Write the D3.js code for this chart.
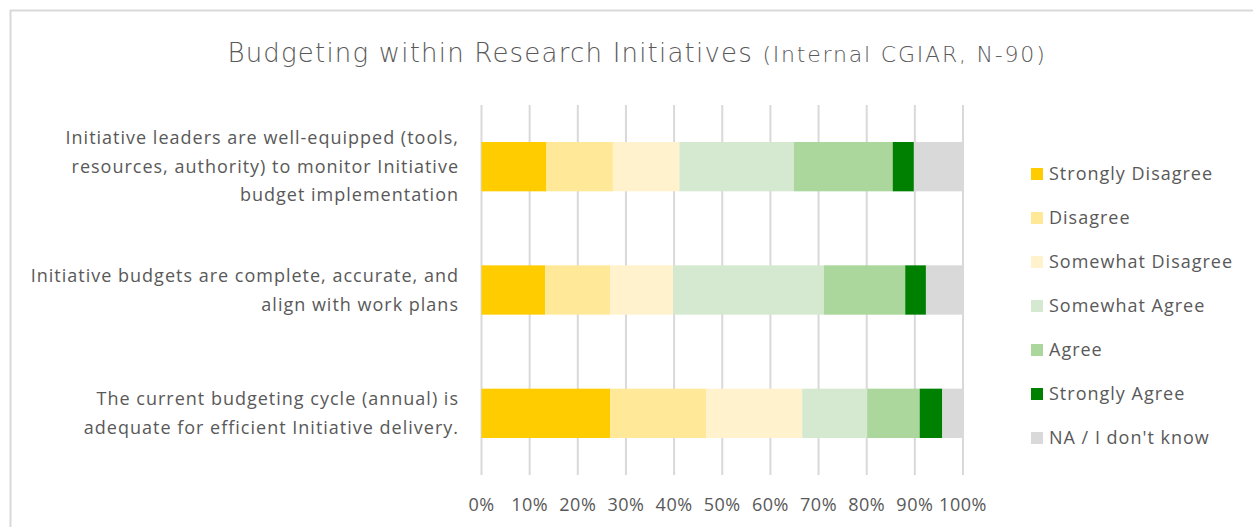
<!DOCTYPE html>
<html>
<head>
<meta charset="utf-8">
<script src="https://cdn.jsdelivr.net/npm/d3@7"></script>
<style>
  body { margin: 0; background: #fff; }
  svg { display: block; font-family: "Open Sans", "Noto Sans", sans-serif; }
</style>
</head>
<body>
<svg id="chart" width="1253" height="527"></svg>
<script>
// survey statements, top to bottom
const questions = [
  ["Initiative leaders are well-equipped (tools,", "resources, authority) to monitor Initiative", "budget implementation"],
  ["Initiative budgets are complete, accurate, and", "align with work plans"],
  ["The current budgeting cycle (annual) is", "adequate for efficient Initiative delivery."]
];
const responses = ["Strongly Disagree", "Disagree", "Somewhat Disagree", "Somewhat Agree", "Agree", "Strongly Agree", "NA / I don't know"];
const colors = ["#FFCC00", "#FFE999", "#FFF2CC", "#D5E8D0", "#ABD79C", "#008000", "#D9D9D9"];
// percent shares per question, in response order
const shares = [
  [13.5, 13.8, 13.8, 23.8, 20.5, 4.4, 10.2],
  [13.2, 13.5, 13.1, 31.3, 16.9, 4.3, 7.7],
  [26.7, 20.0, 19.9, 13.5, 10.9, 4.7, 4.3]
];
const ticks = [0, 10, 20, 30, 40, 50, 60, 70, 80, 90, 100];

const svg = d3.select("#chart");
const textColor = "#595959";

// outer chart frame (extends past the window on right/bottom)
svg.append("rect")
  .attr("x", 10.5).attr("y", 10.5).attr("width", 1300).attr("height", 600)
  .attr("fill", "none").attr("stroke", "#d9d9d9").attr("stroke-width", 2);

// title
const title = svg.append("text")
  .attr("x", 637).attr("y", 62).attr("text-anchor", "middle")
  .attr("fill", textColor).attr("font-family", "'DejaVu Sans', sans-serif")
  .attr("font-weight", 200);
title.append("tspan").attr("font-size", 26).attr("letter-spacing", 1.2)
  .text("Budgeting within Research Initiatives ");
title.append("tspan").attr("font-size", 22).attr("letter-spacing", 1.8)
  .text("(Internal CGIAR, N-90)");

const x = d3.scaleLinear().domain([0, 100]).range([481.5, 963]);
const y = d3.scaleBand().domain(d3.range(questions.length)).range([105, 475])
  .paddingInner(0.6).paddingOuter(0.3);

// gridlines
svg.append("g").selectAll("line").data(ticks).join("line")
  .attr("x1", (d) => x(d)).attr("x2", (d) => x(d))
  .attr("y1", 105).attr("y2", 475)
  .attr("stroke", "#d9d9d9").attr("stroke-width", 2);

// stacked bars
const rows = shares.map((s, i) => {
  let acc = 0;
  return s.map((v, k) => {
    const seg = { row: i, k, x0: acc, x1: acc + v };
    acc += v;
    return seg;
  });
});
svg.append("g").selectAll("g").data(rows).join("g")
  .selectAll("rect").data((d) => d).join("rect")
  .attr("x", (d) => x(d.x0))
  .attr("width", (d) => x(d.x1) - x(d.x0))
  .attr("y", (d) => y(d.row))
  .attr("height", y.bandwidth())
  .attr("fill", (d) => colors[d.k]);

// category labels
const lineH = 28.5;
svg.append("g").selectAll("text").data(questions).join("text")
  .attr("text-anchor", "end").attr("fill", textColor).attr("font-size", 18)
  .attr("letter-spacing", 1)
  .each(function (lines, i) {
    const cy = y(i) + y.bandwidth() / 2;
    const top = cy - ((lines.length - 1) * lineH) / 2;
    d3.select(this).selectAll("tspan").data(lines).join("tspan")
      .attr("x", 459).attr("y", (d, j) => top + j * lineH)
      .attr("dy", "0.35em").text((d) => d);
  });

// x axis labels
svg.append("g").selectAll("text").data(ticks).join("text")
  .attr("x", (d) => x(d)).attr("y", 505).attr("dy", "0.35em")
  .attr("text-anchor", "middle").attr("fill", textColor).attr("font-size", 18)
  .attr("letter-spacing", 0.5)
  .text((d) => d + "%");

// legend
const legend = svg.append("g").selectAll("g").data(responses).join("g")
  .attr("transform", (d, i) => `translate(1031, ${174 + i * 44})`);
legend.append("rect").attr("x", 0).attr("y", -6).attr("width", 12).attr("height", 12)
  .attr("fill", (d, i) => colors[i]);
legend.append("text").attr("x", 18).attr("dy", "0.35em")
  .attr("fill", textColor).attr("font-size", 18).attr("letter-spacing", 1)
  .text((d) => d);
</script>
</body>
</html>
